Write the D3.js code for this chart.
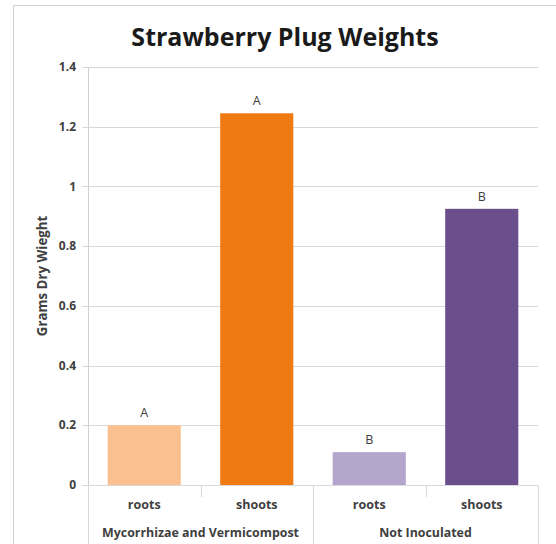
<!doctype html>
<html lang="en">
<head>
<meta charset="UTF-8">
<title>Strawberry Plug Weights</title>
<script src="https://d3js.org/d3.v7.min.js"></script>
<style>
  body { margin: 0; background: #fff; }
  text { font-family: "Open Sans", "Liberation Sans", sans-serif; }
</style>
</head>
<body>
<div id="chart-area"></div>
<script>
const groups = ['Mycorrhizae and Vermicompost', 'Not Inoculated'];
const parts = ['roots', 'shoots'];
const weights = [0.2, 1.245, 0.11, 0.925];
const letters = ['A', 'A', 'B', 'B'];
const yTicks = [0, 0.2, 0.4, 0.6, 0.8, 1, 1.2, 1.4];

const barColors = ['#fac090', '#f07a12', '#b4a5cc', '#6a4f8c'];

const chartW = 556;
const chartH = 544;
const m = { left: 88, right: 18, top: 67, bottom: 59 };

const rows = [];
groups.forEach((g, gi) => parts.forEach((p, pi) => {
    const i = gi * parts.length + pi;
    rows.push({ key: g + '|' + p, group: g, part: p, value: weights[i], letter: letters[i], color: barColors[i] });
}));

const svg = d3.select('#chart-area')
    .append('svg')
    .attr('width', chartW)
    .attr('height', chartH);

// outer frame
svg.append('path')
    .attr('d', `M13.5,${chartH} V5.5 H${chartW}`)
    .attr('fill', 'none')
    .attr('stroke', '#d0d0d0');

const x = d3.scaleBand()
    .domain(rows.map(d => d.key))
    .range([m.left, chartW - m.right])
    .paddingInner(0.35)
    .paddingOuter(0.175);

const y = d3.scaleLinear()
    .domain([0, 1.4])
    .range([chartH - m.bottom, m.top]);

// gridlines
svg.append('g')
    .selectAll('line')
    .data(yTicks)
    .enter()
    .append('line')
        .attr('x1', m.left - 6)
        .attr('x2', chartW - m.right)
        .attr('y1', d => Math.round(y(d)) + 0.5)
        .attr('y2', d => Math.round(y(d)) + 0.5)
        .attr('stroke', '#d9d9d9');

// y axis line
svg.append('line')
    .attr('x1', m.left + 0.5).attr('x2', m.left + 0.5)
    .attr('y1', m.top).attr('y2', chartH)
    .attr('stroke', '#d0d0d0');

// y tick labels
svg.append('g')
    .selectAll('text')
    .data(yTicks)
    .enter()
    .append('text')
        .attr('x', m.left - 12)
        .attr('y', d => y(d))
        .attr('dy', '0.35em')
        .attr('text-anchor', 'end')
        .attr('font-size', 12)
        .attr('font-weight', 'bold')
        .attr('fill', '#404040')
        .text(d => d);

// bars
svg.append('g')
    .selectAll('rect')
    .data(rows)
    .enter()
    .append('rect')
        .attr('x', d => x(d.key))
        .attr('y', d => y(d.value))
        .attr('width', x.bandwidth())
        .attr('height', d => y(0) - y(d.value))
        .attr('fill', d => d.color);

// significance letters
svg.append('g')
    .selectAll('text')
    .data(rows)
    .enter()
    .append('text')
        .attr('x', d => x(d.key) + x.bandwidth() / 2)
        .attr('y', d => y(d.value) - 8)
        .attr('text-anchor', 'middle')
        .attr('font-size', 12.5)
        .attr('fill', '#404040')
        .text(d => d.letter);

// category boundaries
const step = x.step();
const bounds = d3.range(rows.length + 1).map(i => m.left + i * step);
svg.append('g')
    .selectAll('line')
    .data(bounds)
    .enter()
    .append('line')
        .attr('x1', d => Math.round(d) + 0.5)
        .attr('x2', d => Math.round(d) + 0.5)
        .attr('y1', y(0))
        .attr('y2', (d, i) => i % parts.length === 0 ? chartH : y(0) + 12)
        .attr('stroke', '#d9d9d9');

// part labels
svg.append('g')
    .selectAll('text')
    .data(rows)
    .enter()
    .append('text')
        .attr('x', d => x(d.key) + x.bandwidth() / 2)
        .attr('y', 509)
        .attr('text-anchor', 'middle')
        .attr('font-size', 12.5)
        .attr('font-weight', 'bold')
        .attr('fill', '#404040')
        .text(d => d.part);

// group labels
svg.append('g')
    .selectAll('text')
    .data(groups)
    .enter()
    .append('text')
        .attr('x', (d, i) => m.left + (i + 0.5) * step * parts.length)
        .attr('y', 537)
        .attr('text-anchor', 'middle')
        .attr('font-size', 12.4)
        .attr('font-weight', 'bold')
        .attr('fill', '#404040')
        .text(d => d);

// title
svg.append('text')
    .attr('x', 285)
    .attr('y', 46)
    .attr('text-anchor', 'middle')
    .attr('font-size', 25)
    .attr('font-weight', 'bold')
    .attr('fill', '#1a1a1a')
    .text('Strawberry Plug Weights');

// y axis title
svg.append('text')
    .attr('transform', `translate(47,${(m.top + y(0)) / 2}) rotate(-90)`)
    .attr('text-anchor', 'middle')
    .attr('font-size', 13.3)
    .attr('font-weight', 'bold')
    .attr('fill', '#404040')
    .text('Grams Dry Wieght');
</script>
</body>
</html>
